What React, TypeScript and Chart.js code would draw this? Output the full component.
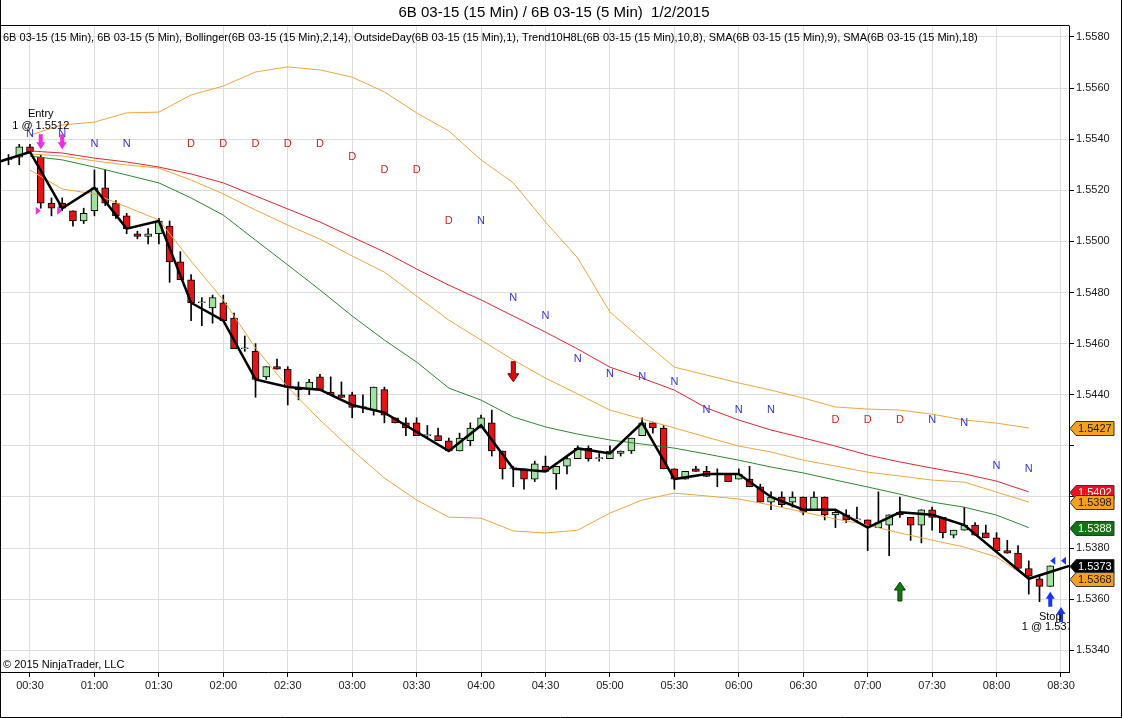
import React, { useEffect, useRef } from "react";
import { Chart, registerables } from "chart.js";

Chart.register(...registerables);

// ---------- DATA ----------
const candleTimes = [
  "00:20","00:25","00:30","00:35","00:40","00:45","00:50","00:55",
  "01:00","01:05","01:10","01:15","01:20","01:25","01:30","01:35","01:40","01:45","01:50","01:55",
  "02:00","02:05","02:10","02:15","02:20","02:25","02:30","02:35","02:40","02:45","02:50","02:55",
  "03:00","03:05","03:10","03:15","03:20","03:25","03:30","03:35","03:40","03:45","03:50","03:55",
  "04:00","04:05","04:10","04:15","04:20","04:25","04:30","04:35","04:40","04:45","04:50","04:55",
  "05:00","05:05","05:10","05:15","05:20","05:25","05:30","05:35","05:40","05:45","05:50","05:55",
  "06:00","06:05","06:10","06:15","06:20","06:25","06:30","06:35","06:40","06:45","06:50","06:55",
  "07:00","07:05","07:10","07:15","07:20","07:25","07:30","07:35","07:40","07:45","07:50","07:55",
  "08:00","08:05","08:10","08:15","08:20","08:25",
];

const openPrices = [
  1.5532,1.5533,1.5537,1.5533,1.5515,1.5515,1.5512,1.5508,
  1.5512,1.5521,1.5515,1.5510,1.5503,1.5502,1.5503,1.5506,1.5492,1.5485,1.5476,1.5474,
  1.5476,1.5470,1.5458,1.5457,1.5447,1.5451,1.5450,1.5443,1.5442,1.5447,1.5441,1.5440,
  1.5440,1.5435,1.5434,1.5442,1.5431,1.5429,1.5429,1.5424,1.5424,1.5422,1.5418,1.5422,
  1.5427,1.5429,1.5418,1.5411,1.5411,1.5407,1.5412,1.5409,1.5412,1.5415,1.5419,1.5415,
  1.5415,1.5417,1.5418,1.5424,1.5429,1.5427,1.5411,1.5407,1.5411,1.5410,1.5409,1.5409,
  1.5407,1.5407,1.5404,1.5398,1.5400,1.5398,1.5400,1.5395,1.5400,1.5393,1.5393,1.5391,
  1.5391,1.5388,1.5389,1.5394,1.5392,1.5389,1.5395,1.5392,1.5385,1.5387,1.5389,1.5386,
  1.5384,1.5379,1.5378,1.5372,1.5368,1.5365,
];
const highPrices = [
  1.5534,1.5538,1.5538,1.5534,1.5517,1.5517,1.5512,1.5513,
  1.5528,1.5528,1.5516,1.5511,1.5504,1.5505,1.5509,1.5508,1.5496,1.5487,1.5478,1.5479,
  1.5479,1.5472,1.5463,1.5460,1.5451,1.5454,1.5451,1.5445,1.5446,1.5448,1.5447,1.5445,
  1.5441,1.5440,1.5443,1.5443,1.5431,1.5431,1.5431,1.5428,1.5427,1.5423,1.5425,1.5429,
  1.5432,1.5434,1.5418,1.5412,1.5411,1.5414,1.5416,1.5412,1.5416,1.5420,1.5420,1.5417,
  1.5420,1.5418,1.5423,1.5431,1.5429,1.5428,1.5411,1.5410,1.5412,1.5412,1.5411,1.5409,
  1.5411,1.5412,1.5405,1.5402,1.5402,1.5402,1.5400,1.5402,1.5400,1.5395,1.5395,1.5396,
  1.5391,1.5402,1.5393,1.5400,1.5392,1.5395,1.5396,1.5392,1.5387,1.5396,1.5390,1.5389,
  1.5386,1.5383,1.5381,1.5375,1.5369,1.5373,
];
const lowPrices = [
  1.5530,1.5530,1.5535,1.5513,1.5510,1.5512,1.5506,1.5507,
  1.5510,1.5514,1.5509,1.5503,1.5501,1.5499,1.5499,1.5484,1.5485,1.5469,1.5467,1.5468,
  1.5469,1.5458,1.5457,1.5439,1.5446,1.5450,1.5436,1.5438,1.5440,1.5442,1.5440,1.5439,
  1.5431,1.5433,1.5432,1.5429,1.5429,1.5424,1.5424,1.5423,1.5422,1.5418,1.5418,1.5420,
  1.5427,1.5416,1.5407,1.5404,1.5403,1.5406,1.5410,1.5403,1.5409,1.5415,1.5414,1.5414,
  1.5415,1.5416,1.5417,1.5424,1.5425,1.5411,1.5403,1.5407,1.5410,1.5408,1.5404,1.5406,
  1.5407,1.5404,1.5398,1.5395,1.5396,1.5396,1.5393,1.5395,1.5391,1.5388,1.5390,1.5390,
  1.5379,1.5388,1.5377,1.5392,1.5383,1.5382,1.5387,1.5384,1.5384,1.5387,1.5385,1.5384,
  1.5379,1.5378,1.5372,1.5362,1.5359,1.5365,
];
const closePrices = [
  1.5532,1.5537,1.5535,1.5515,1.5513,1.5513,1.5508,1.5511,
  1.5521,1.5515,1.5510,1.5505,1.5502,1.5503,1.5508,1.5492,1.5485,1.5476,1.5476,1.5478,
  1.5469,1.5458,1.5458,1.5446,1.5451,1.5450,1.5443,1.5442,1.5445,1.5442,1.5440,1.5439,
  1.5435,1.5435,1.5443,1.5432,1.5429,1.5427,1.5424,1.5424,1.5422,1.5418,1.5423,1.5427,
  1.5431,1.5418,1.5411,1.5411,1.5407,1.5413,1.5410,1.5412,1.5415,1.5419,1.5415,1.5415,
  1.5418,1.5418,1.5423,1.5429,1.5427,1.5411,1.5407,1.5410,1.5410,1.5408,1.5409,1.5406,
  1.5409,1.5404,1.5398,1.5400,1.5397,1.5400,1.5394,1.5400,1.5393,1.5394,1.5391,1.5391,
  1.5389,1.5390,1.5393,1.5393,1.5389,1.5395,1.5392,1.5386,1.5387,1.5389,1.5385,1.5384,
  1.5379,1.5378,1.5372,1.5369,1.5365,1.5373,
];

// 15-minute indicator series
const indicatorTimes = [
  "00:30","00:45","01:00","01:15","01:30","01:45","02:00","02:15","02:30","02:45","03:00","03:15",
  "03:30","03:45","04:00","04:15","04:30","04:45","05:00","05:15","05:30","05:45","06:00","06:15",
  "06:30","06:45","07:00","07:15","07:30","07:45","08:00","08:15",
];
const bollingerUpper = [
  1.55416,1.55456,1.55467,1.55503,1.55506,1.55573,1.55608,1.55663,1.55683,1.55671,1.55643,1.55585,
  1.55503,1.55432,1.55319,1.55229,1.55076,1.54935,1.54724,1.54614,1.54508,1.54477,1.54446,1.54418,
  1.54387,1.54352,1.54344,1.54340,1.54324,1.54301,1.54289,1.54270,
];
const bollingerMiddle = [
  1.55342,1.55334,1.55315,1.55299,1.55287,1.55240,1.55186,1.55123,1.55064,1.55009,1.54943,1.54880,
  1.54786,1.54692,1.54614,1.54536,1.54465,1.54403,1.54340,1.54305,1.54270,1.54234,1.54199,1.54176,
  1.54144,1.54121,1.54097,1.54082,1.54066,1.54058,1.54019,1.53980,
];
const bollingerLower = [
  1.55279,1.55205,1.55186,1.55135,1.55084,1.54923,1.54771,1.54583,1.54430,1.54301,1.54184,1.54074,
  1.53988,1.53921,1.53917,1.53867,1.53859,1.53870,1.53937,1.53988,1.54015,1.54004,1.53992,1.53968,
  1.53941,1.53914,1.53890,1.53859,1.53831,1.53804,1.53765,1.53680,
];
const sma18Values = [
  1.55354,1.55346,1.55326,1.55311,1.55291,1.55264,1.55229,1.55178,1.55127,1.55076,1.55017,1.54959,
  1.54892,1.54829,1.54771,1.54708,1.54645,1.54579,1.54508,1.54465,1.54418,1.54348,1.54301,1.54262,
  1.54231,1.54199,1.54164,1.54137,1.54113,1.54090,1.54062,1.54020,
];
const sma9Values = [
  1.55334,1.55319,1.55291,1.55260,1.55229,1.55170,1.55103,1.55005,1.54908,1.54810,1.54708,1.54614,
  1.54528,1.54426,1.54379,1.54313,1.54274,1.54246,1.54223,1.54207,1.54191,1.54168,1.54144,1.54117,
  1.54094,1.54066,1.54039,1.54011,1.53980,1.53960,1.53929,1.53880,
];

const zigzagTimes = [
  "00:15","00:30","00:45","01:00","01:15","01:30","01:45","02:00","02:15","02:30","02:45","03:00",
  "03:15","03:45","04:00","04:15","04:30","04:45","05:00","05:15","05:30","05:45","06:00","06:15",
  "06:30","06:45","07:00","07:15","07:30","07:45","08:15","08:30","08:45",
];
const zigzagValues = [
  1.5531,1.5535,1.5513,1.5521,1.5505,1.5508,1.5476,1.5469,1.5446,1.5443,1.5442,1.5436,
  1.5433,1.5418,1.5428,1.5411,1.5410,1.5419,1.5417,1.5429,1.5407,1.5409,1.5409,1.5400,
  1.5395,1.5395,1.5388,1.5394,1.5393,1.5389,1.5368,1.5372,1.5376,
];

const nMarkerTimes = [
  "00:30","00:45","01:00","01:15","04:00","04:15","04:30","04:45","05:00","05:15","05:30","05:45",
  "06:00","06:15","07:30","07:45","08:00","08:15",
];
const nMarkerPrices = [
  1.5542,1.5542,1.5538,1.5538,1.5508,1.5478,1.5471,1.5454,1.5448,1.5447,1.5445,1.5434,
  1.5434,1.5434,1.5430,1.5429,1.5412,1.5411,
];
const dMarkerTimes = ["01:45","02:00","02:15","02:30","02:45","03:00","03:15","03:30","03:45","06:45","07:00","07:15"];
const dMarkerPrices = [1.5538,1.5538,1.5538,1.5538,1.5538,1.5533,1.5528,1.5528,1.5508,1.5430,1.5430,1.5430];

const entryArrowTimes = ["00:35","00:45"];
const entryArrowPrices = [1.5539, 1.5539];
const entryFillTimes = ["00:35","00:45"];
const entryFillPrices = [1.5512, 1.5512];
const shortSignalTimes = ["04:15"];
const shortSignalPrices = [1.5449];
const longSignalTimes = ["07:15"];
const longSignalPrices = [1.5363];
const exitArrowTimes = ["08:25","08:30"];
const exitArrowPrices = [1.5360, 1.5354];
const exitFillTimes = ["08:25","08:30"];
const exitFillPrices = [1.5375, 1.5375];

const entryLabelTime = "00:35";
const entryLabelLines = ["Entry", "1 @ 1.5512"];
const entryLabelPrices = [1.5550, 1.5545];
const stopLabelTime = "08:25";
const stopLabelLines = ["Stop", "1 @ 1.5373"];
const stopLabelPrices = [1.5353, 1.5349];

const timeTickLabels = [
  "00:30","01:00","01:30","02:00","02:30","03:00","03:30","04:00","04:30",
  "05:00","05:30","06:00","06:30","07:00","07:30","08:00","08:30",
];
const priceTicks = [1.534,1.536,1.538,1.540,1.542,1.544,1.546,1.548,1.550,1.552,1.554,1.556,1.558];
const priceTickLabels = ["1.5340","1.5360","1.5380","","","1.5440","1.5460","1.5480","1.5500","1.5520","1.5540","1.5560","1.5580"];

// last-value tags on the price axis
const tagValues = [1.5427, 1.5402, 1.5398, 1.5388, 1.5373, 1.5368];

const chartTitle = "6B 03-15 (15 Min) / 6B 03-15 (5 Min)  1/2/2015";
const headerText =
  "6B 03-15 (15 Min), 6B 03-15 (5 Min), Bollinger(6B 03-15 (15 Min),2,14), OutsideDay(6B 03-15 (15 Min),1), Trend10H8L(6B 03-15 (15 Min),10,8), SMA(6B 03-15 (15 Min),9), SMA(6B 03-15 (15 Min),18)";
const copyrightText = "\u00A9 2015 NinjaTrader, LLC";

// ---------- STYLE ----------
const FONT = "'Liberation Sans', Arial, sans-serif";
const ORANGE = "#f2a53a";
const RED_LINE = "#e8242c";
const GREEN_LINE = "#2b8a2b";
const CANDLE_UP = "#9fe39f";
const CANDLE_DOWN = "#e41414";
const tagFill = ["#f5a11c", "#e8141c", "#f5a11c", "#0f730f", "#000000", "#f5a11c"];
const tagText = ["#1a1a1a", "#ffffff", "#1a1a1a", "#ffffff", "#ffffff", "#1a1a1a"];

function toMinutes(t: string): number {
  const [h, m] = t.split(":").map(Number);
  return h * 60 + m;
}

function drawArrow(ctx: CanvasRenderingContext2D, x: number, y: number, dir: number, len: number,
  headW: number, shaftW: number, headLen: number, fill: string, stroke?: string) {
  const tail = y - (dir * len) / 2;
  const tip = y + (dir * len) / 2;
  const neck = tip - dir * headLen;
  ctx.beginPath();
  ctx.moveTo(x - shaftW / 2, tail);
  ctx.lineTo(x + shaftW / 2, tail);
  ctx.lineTo(x + shaftW / 2, neck);
  ctx.lineTo(x + headW / 2, neck);
  ctx.lineTo(x, tip);
  ctx.lineTo(x - headW / 2, neck);
  ctx.lineTo(x - shaftW / 2, neck);
  ctx.closePath();
  ctx.fillStyle = fill;
  ctx.fill();
  if (stroke) {
    ctx.strokeStyle = stroke;
    ctx.lineWidth = 1;
    ctx.stroke();
  }
}

export default function App() {
  const canvasRef = useRef<HTMLCanvasElement>(null);

  useEffect(() => {
    document.body.style.margin = "0";
    const canvas = canvasRef.current;
    if (!canvas) return;

    const candleX = candleTimes.map(toMinutes);
    const bodyColors = closePrices.map((c, i) =>
      c > openPrices[i] ? CANDLE_UP : c < openPrices[i] ? CANDLE_DOWN : "#ffffff"
    );
    const lineData = (vals: number[]) => indicatorTimes.map((t, i) => ({ x: toMinutes(t), y: vals[i] }));

    const decorations = {
      id: "decorations",
      afterDatasetsDraw(chart: any) {
        const ctx: CanvasRenderingContext2D = chart.ctx;
        const xs = chart.scales.x;
        const ys = chart.scales.y;
        const a = chart.chartArea;
        const px = (t: string) => xs.getPixelForValue(toMinutes(t));
        const py = (v: number) => ys.getPixelForValue(v);
        ctx.save();
        ctx.beginPath();
        ctx.rect(a.left, a.top, a.right - a.left, a.bottom - a.top);
        ctx.clip();

        ctx.font = `11px ${FONT}`;
        ctx.textAlign = "center";
        ctx.textBaseline = "middle";
        ctx.fillStyle = "#3434d2";
        nMarkerTimes.forEach((t, i) => ctx.fillText("N", px(t), py(nMarkerPrices[i])));
        ctx.fillStyle = "#cf1f1f";
        dMarkerTimes.forEach((t, i) => ctx.fillText("D", px(t), py(dMarkerPrices[i])));

        // entry arrows (magenta)
        entryArrowTimes.forEach((t, i) =>
          drawArrow(ctx, px(t), py(entryArrowPrices[i]), 1, 15, 9, 4, 7, "#f02ce0"));
        // entry fills: small right-pointing triangles
        ctx.fillStyle = "#f02ce0";
        entryFillTimes.forEach((t, i) => {
          const x = px(t), y = py(entryFillPrices[i]);
          ctx.beginPath();
          ctx.moveTo(x, y);
          ctx.lineTo(x - 5, y - 4);
          ctx.lineTo(x - 5, y + 4);
          ctx.closePath();
          ctx.fill();
        });
        // signal arrows
        shortSignalTimes.forEach((t, i) =>
          drawArrow(ctx, px(t), py(shortSignalPrices[i]), 1, 20, 11, 4, 8, "#dd0a0a", "#7a0000"));
        longSignalTimes.forEach((t, i) =>
          drawArrow(ctx, px(t), py(longSignalPrices[i]), -1, 19, 11, 4, 8, "#117a11", "#063d06"));
        // exit arrows (blue)
        exitArrowTimes.forEach((t, i) =>
          drawArrow(ctx, px(t), py(exitArrowPrices[i]), -1, 15, 9, 4, 7, "#1536ff"));
        ctx.fillStyle = "#1536ff";
        exitFillTimes.forEach((t, i) => {
          const x = px(t), y = py(exitFillPrices[i]);
          ctx.beginPath();
          ctx.moveTo(x, y);
          ctx.lineTo(x + 5, y - 4);
          ctx.lineTo(x + 5, y + 4);
          ctx.closePath();
          ctx.fill();
        });

        // execution labels
        ctx.fillStyle = "#000";
        ctx.font = `11px ${FONT}`;
        entryLabelLines.forEach((s, i) => ctx.fillText(s, px(entryLabelTime), py(entryLabelPrices[i])));
        stopLabelLines.forEach((s, i) => ctx.fillText(s, px(stopLabelTime), py(stopLabelPrices[i])));

        // header and copyright inside plot
        ctx.textAlign = "left";
        ctx.fillText(headerText, a.left + 2, a.top + 12);
        ctx.fillText(copyrightText, a.left + 2, a.bottom - 7);
        ctx.restore();
      },
      afterDraw(chart: any) {
        const ctx: CanvasRenderingContext2D = chart.ctx;
        const ys = chart.scales.y;
        const a = chart.chartArea;
        const W = chart.width;
        const H = chart.height;
        ctx.save();
        // frames
        ctx.strokeStyle = "#000";
        ctx.lineWidth = 1;
        ctx.beginPath();
        ctx.moveTo(0, Math.round(a.top) - 0.5);
        ctx.lineTo(Math.round(a.right) + 0.5, Math.round(a.top) - 0.5);
        ctx.moveTo(0.5, 0);
        ctx.lineTo(0.5, H);
        ctx.moveTo(0, H - 0.5);
        ctx.lineTo(W - 2, H - 0.5);
        ctx.moveTo(W - 1.5, 0);
        ctx.lineTo(W - 1.5, H);
        ctx.stroke();

        // title
        ctx.fillStyle = "#000";
        ctx.font = `15px ${FONT}`;
        ctx.textAlign = "center";
        ctx.textBaseline = "middle";
        ctx.fillText(chartTitle, 554, 13);

        // value tags
        ctx.font = `11px ${FONT}`;
        ctx.textAlign = "left";
        tagValues.forEach((v, i) => {
          const y = Math.round(ys.getPixelForValue(v)) + 0.5;
          const x0 = a.right + 1;
          ctx.beginPath();
          ctx.moveTo(x0, y);
          ctx.lineTo(x0 + 6, y - 7);
          ctx.lineTo(x0 + 44, y - 7);
          ctx.lineTo(x0 + 44, y + 7);
          ctx.lineTo(x0 + 6, y + 7);
          ctx.closePath();
          ctx.fillStyle = tagFill[i];
          ctx.fill();
          ctx.strokeStyle = "#333";
          ctx.stroke();
          ctx.fillStyle = tagText[i];
          ctx.fillText(v.toFixed(4), x0 + 8, y + 0.5);
        });
        ctx.restore();
      },
    };

    const chart = new Chart(canvas, {
      type: "bar",
      data: {
        datasets: [
          {
            type: "line",
            label: "Trend10H8L",
            data: zigzagTimes.map((t, i) => ({ x: toMinutes(t), y: zigzagValues[i] })),
            borderColor: "#000",
            borderWidth: 2.5,
            pointRadius: 0,
            tension: 0,
            order: 0,
          },
          { type: "line", label: "SMA18", data: lineData(sma18Values), borderColor: RED_LINE, borderWidth: 1, pointRadius: 0, order: 1 },
          { type: "line", label: "BB upper", data: lineData(bollingerUpper), borderColor: ORANGE, borderWidth: 1, pointRadius: 0, order: 1 },
          { type: "line", label: "BB middle", data: lineData(bollingerMiddle), borderColor: ORANGE, borderWidth: 1, pointRadius: 0, order: 1 },
          { type: "line", label: "BB lower", data: lineData(bollingerLower), borderColor: ORANGE, borderWidth: 1, pointRadius: 0, order: 1 },
          { type: "line", label: "SMA9", data: lineData(sma9Values), borderColor: GREEN_LINE, borderWidth: 1, pointRadius: 0, order: 1 },
          {
            type: "bar",
            label: "body",
            data: candleX.map((x, i) => ({ x, y: [openPrices[i], closePrices[i]] })),
            backgroundColor: bodyColors,
            borderColor: "#000",
            borderWidth: 1,
            borderSkipped: false,
            barThickness: 7,
            grouped: false,
            minBarLength: 1,
            order: 3,
          },
          {
            type: "bar",
            label: "wick",
            data: candleX.map((x, i) => ({ x, y: [lowPrices[i], highPrices[i]] })),
            backgroundColor: "#000",
            borderWidth: 0,
            barThickness: 1,
            grouped: false,
            minBarLength: 1,
            order: 4,
          },
        ] as any,
      },
      options: {
        animation: false,
        responsive: false,
        maintainAspectRatio: false,
        devicePixelRatio: 1,
        layout: { padding: { top: 26, left: 1, right: 0, bottom: 0 } },
        plugins: { legend: { display: false }, tooltip: { enabled: false }, title: { display: false } },
        scales: {
          x: {
            type: "linear",
            min: 16.5,
            max: 513.73,
            offset: false,
            afterBuildTicks: (s: any) => {
              s.ticks = timeTickLabels.map((l) => ({ value: toMinutes(l) }));
            },
            afterFit: (s: any) => {
              s.height = 46;
            },
            grid: { color: "#dedede", tickColor: "#000", tickLength: 5, offset: false },
            border: { display: true, color: "#000" },
            ticks: {
              autoSkip: false,
              maxRotation: 0,
              padding: 2,
              color: "#1a1a1a",
              font: { family: FONT, size: 11 },
              callback: (_v: any, i: number) => timeTickLabels[i],
            },
          },
          y: {
            type: "linear",
            position: "right",
            min: 1.53315,
            max: 1.55843,
            afterBuildTicks: (s: any) => {
              s.ticks = priceTicks.map((v) => ({ value: v }));
            },
            afterFit: (s: any) => {
              s.width = 54;
            },
            grid: { color: "#dedede", tickColor: "#000", tickLength: 5 },
            border: { display: true, color: "#000" },
            ticks: {
              padding: 2,
              color: "#1a1a1a",
              font: { family: FONT, size: 11 },
              callback: (_v: any, i: number) => priceTickLabels[i],
            },
          },
        },
      } as any,
      plugins: [decorations],
    });

    return () => chart.destroy();
  }, []);

  return (
    <div style={{ position: "absolute", left: 0, top: 0, width: 1123, height: 718, background: "#fff" }}>
      <canvas ref={canvasRef} width={1123} height={718} style={{ display: "block", width: 1123, height: 718 }} />
    </div>
  );
}
